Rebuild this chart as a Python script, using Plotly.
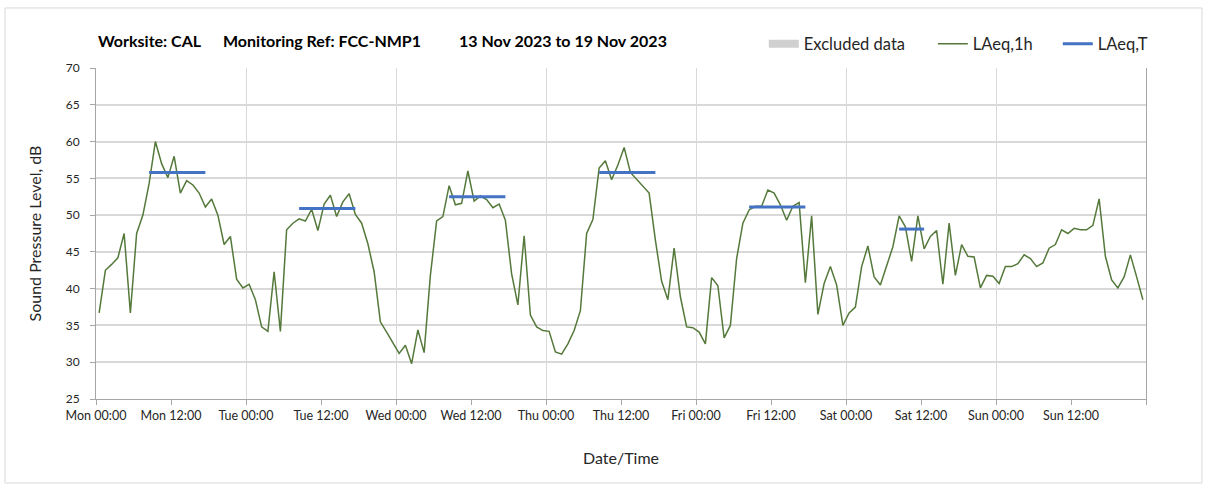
import pandas as pd
import plotly.graph_objects as go

# Hourly LAeq,1h values (dB), one per hour starting Mon 13 Nov 2023 00:00
laeq_1h = [
    36.7, 42.5, 43.3, 44.2, 47.5, 36.7, 47.5, 50.0, 54.3, 60.0, 57.0, 55.1,
    58.0, 53.0, 54.7, 54.1, 53.0, 51.1, 52.2, 50.0, 46.0, 47.1, 41.3, 40.1,
    40.6, 38.5, 34.8, 34.2, 42.3, 34.2, 48.0, 48.9, 49.5, 49.2, 50.8, 47.9,
    51.5, 52.7, 49.8, 51.8, 52.9, 50.1, 48.9, 46.1, 42.3, 35.5, 34.1, 32.7,
    31.2, 32.3, 29.8, 34.4, 31.3, 41.8, 49.2, 49.8, 54.0, 51.4, 51.6, 56.0,
    51.9, 52.6, 52.1, 51.0, 51.5, 49.3, 42.0, 37.8, 47.2, 36.4, 34.8, 34.3,
    34.2, 31.4, 31.1, 32.5, 34.3, 37.0, 47.5, 49.4, 56.4, 57.4, 54.8, 56.8,
    59.2, 55.8, 54.9, 54.0, 53.0, 46.6, 41.0, 38.5, 45.5, 38.9, 34.8, 34.7,
    34.1, 32.5, 41.5, 40.4, 33.3, 35.0, 44.1, 48.9, 50.7, 51.2, 51.2, 53.4,
    53.0, 51.4, 49.3, 51.2, 51.7, 40.8, 49.9, 36.5, 40.7, 43.0, 40.5, 35.0,
    36.7, 37.5, 43.0, 45.8, 41.6, 40.5, 43.2, 45.7, 49.9, 48.4, 43.7, 49.9,
    45.4, 47.1, 47.9, 40.6, 48.9, 41.8, 46.0, 44.4, 44.3, 40.1, 41.8, 41.7,
    40.7, 43.0, 43.0, 43.4, 44.6, 44.1, 43.0, 43.5, 45.5, 46.0, 48.0, 47.5,
    48.2, 48.0, 48.0, 48.6, 52.2, 44.4, 41.2, 40.1, 41.6, 44.6, 41.6, 38.5,
]

# Assessment periods and their LAeq,T (dB)
period_start = ["2023-11-13 08:00", "2023-11-14 08:00", "2023-11-15 08:00",
                "2023-11-16 08:00", "2023-11-17 08:00", "2023-11-18 08:00"]
period_end = ["2023-11-13 18:00", "2023-11-14 18:00", "2023-11-15 18:00",
              "2023-11-16 18:00", "2023-11-17 18:00", "2023-11-18 13:00"]
laeq_t = [55.8, 50.9, 52.5, 55.8, 51.1, 48.1]

# Periods removed from the assessment (none this week)
excluded_start = []
excluded_end = []

week_start = pd.Timestamp("2023-11-13 00:00")
week_end = pd.Timestamp("2023-11-20 00:00")
tick_labels_at = pd.date_range(week_start, periods=14, freq="12h")

FONT = "Lato"
TXT = "#262626"
GRID = "#d9d9d9"
AXIS = "#a6a6a6"
GREEN = "#54793a"
BLUE = "#4472c4"

half_hour = pd.Timedelta(minutes=30)
hour_start = pd.date_range(week_start, periods=len(laeq_1h), freq="h")
hour_mid = hour_start + half_hour

# Each LAeq,T segment spans the midpoints of the first and last hours in the period
tx, ty = [], []
for s, e, v in zip(period_start, period_end, laeq_t):
    tx += [pd.Timestamp(s) + half_hour, pd.Timestamp(e) - half_hour, None]
    ty += [v, v, None]

fig = go.Figure()

for s, e in zip(excluded_start, excluded_end):
    fig.add_vrect(x0=s, x1=e, fillcolor="#d0d0d0", line_width=0, layer="below")

# Legend entry for excluded data; it sits on the day-grid axis
fig.add_trace(go.Scatter(
    x=[None], y=[None], mode="lines", name="Excluded data",
    line=dict(color="#d0d0d0", width=8), legend="legend", hoverinfo="skip",
    xaxis="x2", yaxis="y",
))
fig.add_trace(go.Scatter(
    x=hour_mid, y=laeq_1h, mode="lines", name="LAeq,1h",
    line=dict(color=GREEN, width=1.5), legend="legend2",
))
fig.add_trace(go.Scatter(
    x=tx, y=ty, mode="lines", name="LAeq,T",
    line=dict(color=BLUE, width=3), legend="legend3",
))

legend_common = dict(
    orientation="h", yanchor="middle", y=1.0725, xanchor="left",
    font=dict(family=FONT, size=16.5, color=TXT), bgcolor="rgba(0,0,0,0)",
    itemwidth=30, borderwidth=0,
)

fig.update_layout(
    width=1208, height=491,
    margin=dict(l=96, r=62, t=68, b=92),
    paper_bgcolor="white", plot_bgcolor="white",
    font=dict(family=FONT, color=TXT),
    legend=dict(x=0.636, **legend_common),
    legend2=dict(x=0.797, **legend_common),
    legend3=dict(x=0.916, **legend_common),
    xaxis=dict(
        type="date", range=[week_start, week_end],
        tickvals=tick_labels_at, tickformat="%a %H:%M",
        ticks="outside", ticklen=5, tickcolor=AXIS,
        showgrid=False, showline=True, linecolor=AXIS, linewidth=1,
        tickfont=dict(family=FONT, size=12.5, color=TXT),
        title=dict(text="Date/Time", font=dict(family=FONT, size=16, color=TXT),
                   standoff=30),
        zeroline=False,
    ),
    xaxis2=dict(
        type="date", overlaying="x", matches="x", anchor="y",
        range=[week_start, week_end], dtick=86400000, tick0=week_start,
        showgrid=True, gridcolor=GRID, gridwidth=1.3,
        ticks="outside", ticklen=5, tickcolor=AXIS,
        showticklabels=False, showline=False, zeroline=False,
    ),
    yaxis=dict(
        range=[25, 70], dtick=5, tick0=25,
        showgrid=True, gridcolor=GRID, gridwidth=1.6,
        ticks="outside", ticklen=5, tickcolor=AXIS,
        showline=True, linecolor=AXIS, linewidth=1, mirror=True,
        tickfont=dict(family=FONT, size=12, color=TXT),
        ticklabelstandoff=8,
        title=dict(text="Sound Pressure Level, dB",
                   font=dict(family=FONT, size=16, color=TXT), standoff=20),
        zeroline=False,
    ),
    showlegend=True,
)

# Heading
title_font = dict(family=FONT, size=16, color="#000000")
for xp, txt in [(0.0, "Worksite: CAL"),
                (0.119, "Monitoring Ref: FCC-NMP1"),
                (0.3438, "13 Nov 2023 to 19 Nov 2023")]:
    fig.add_annotation(
        x=xp, y=1.0816, xref="paper", yref="paper", xanchor="left",
        yanchor="middle", text=f"<b>{txt}</b>", showarrow=False, font=title_font,
    )

# Chart frame
fig.add_shape(
    type="rect", xref="paper", yref="paper",
    x0=-0.0867, x1=1.0533, y0=-0.2538, y1=1.1813,
    line=dict(color=GRID, width=1), fillcolor="rgba(0,0,0,0)", layer="below",
)

fig.write_html("out.html")
